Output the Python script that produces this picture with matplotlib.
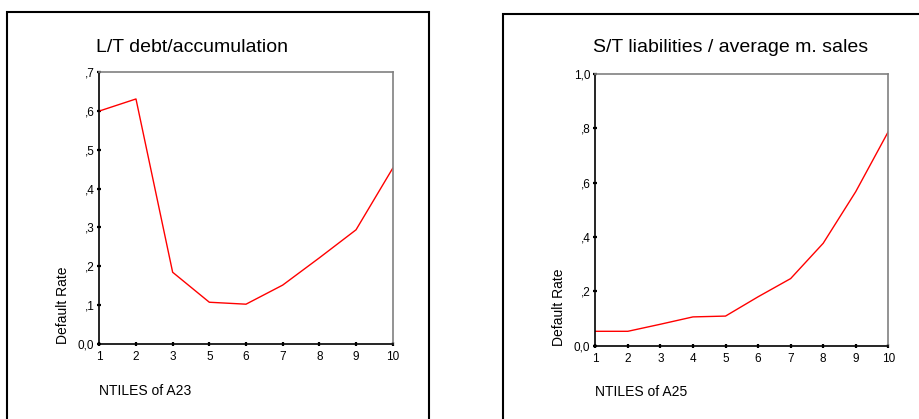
import matplotlib
matplotlib.use('Agg')
import matplotlib.pyplot as plt
from matplotlib.patches import Rectangle

plt.rcParams['font.family'] = ['Liberation Sans', 'DejaVu Sans']

# default rate per ntile group
a23_groups = ['1', '2', '3', '5', '6', '7', '8', '9', '10']
a23_rate = [0.599, 0.630, 0.185, 0.108, 0.103, 0.152, 0.222, 0.294, 0.452]
a23_yticks = [0.0, 0.1, 0.2, 0.3, 0.4, 0.5, 0.6, 0.7]
a23_ylabels = ['0,0', ',1', ',2', ',3', ',4', ',5', ',6', ',7']

a25_groups = ['1', '2', '3', '4', '5', '6', '7', '8', '9', '10']
a25_rate = [0.053, 0.053, 0.079, 0.106, 0.109, 0.180, 0.247, 0.377, 0.567, 0.788]
a25_yticks = [0.0, 0.2, 0.4, 0.6, 0.8, 1.0]
a25_ylabels = ['0,0', ',2', ',4', ',6', ',8', '1,0']

W, H = 920, 419
fig = plt.figure(figsize=(W / 100, H / 100), dpi=100)


def px_rect(x0, y0, x1, y1):
    # pixel box (top-left origin) -> figure fraction [left, bottom, width, height]
    return [x0 / W, (H - y1) / H, (x1 - x0) / W, (y1 - y0) / H]


def draw_panel(rect, groups, rate, yticks, ylabels, title, xlabel, title_x, xlabel_y):
    ax = fig.add_axes(rect)
    xs = list(range(len(groups)))
    ax.plot(xs, rate, color='#ff0000', lw=1.0)
    ax.set_xlim(0, len(groups) - 1)
    ax.set_ylim(yticks[0], yticks[-1])
    ax.set_xticks(xs)
    ax.set_xticklabels(groups)
    ax.set_yticks(yticks)
    ax.set_yticklabels(ylabels)
    ax.tick_params(direction='inout', length=3, width=1.6, color='black',
                   labelsize=8.5)
    ax.tick_params(axis='x', pad=3.5)
    ax.tick_params(axis='y', pad=2)
    for side in ('left', 'bottom'):
        ax.spines[side].set_color('black')
        ax.spines[side].set_linewidth(1.2)
    for side in ('top', 'right'):
        ax.spines[side].set_color('#808080')
        ax.spines[side].set_linewidth(1.2)
    ax.set_ylabel('Default Rate', fontsize=10, loc='bottom', labelpad=6)
    fig.text(title_x / W, 1 - 48 / H, title, fontsize=14, va='center', ha='left')
    fig.text(rect[0], 1 - xlabel_y / H, xlabel, fontsize=10, va='center', ha='left')
    return ax


draw_panel(px_rect(99.3, 71.7, 392.7, 344.3), a23_groups, a23_rate, a23_yticks,
           a23_ylabels, 'L/T debt/accumulation', 'NTILES of A23', 96, 391)
draw_panel(px_rect(595.3, 74, 888.3, 345.7), a25_groups, a25_rate, a25_yticks,
           a25_ylabels, 'S/T liabilities / average m. sales', 'NTILES of A25', 593, 392)

# frames around each chart
fig.patches.append(Rectangle((7 / W, -0.1), (429 - 7) / W, 1.1 - 12 / H,
                             transform=fig.transFigure, fill=False, lw=1.5,
                             edgecolor='black'))
fig.patches.append(Rectangle((503 / W, -0.1), 0.5, 1.1 - 14 / H,
                             transform=fig.transFigure, fill=False, lw=1.5,
                             edgecolor='black'))

fig.savefig('out.png', dpi=100)
